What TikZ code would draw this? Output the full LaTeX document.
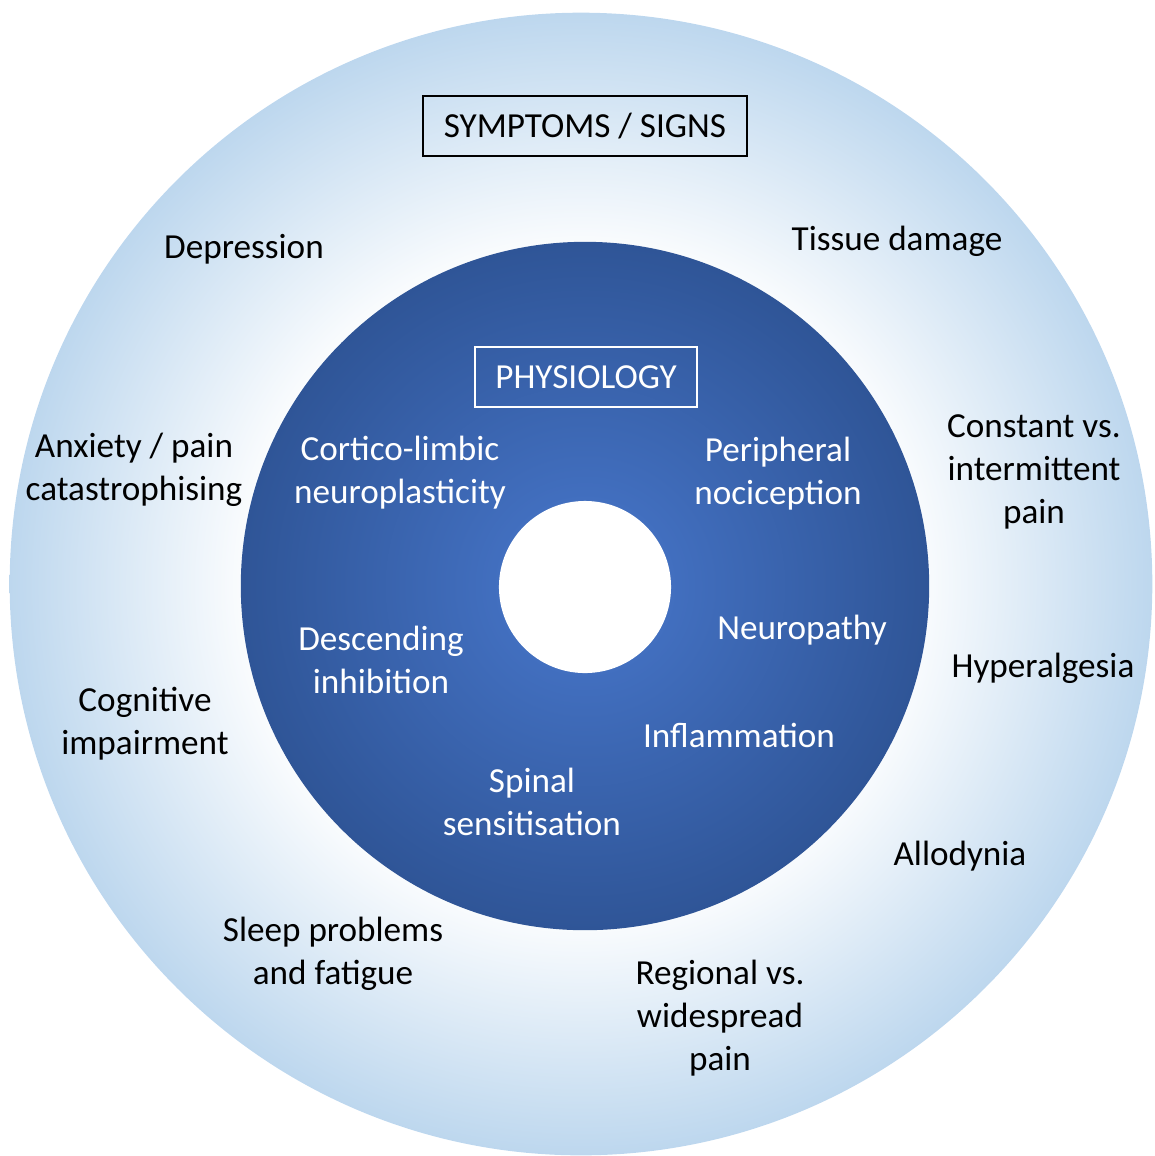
\documentclass[tikz,border=0pt]{standalone}
\usepackage{fontspec}
\setmainfont{Carlito}
\definecolor{sky}{HTML}{BDD7EE}
\definecolor{deepblue}{HTML}{2F5597}
\definecolor{midblue}{HTML}{4472C4}
\pgfdeclareradialshading{outerglow}{\pgfpoint{0bp}{0bp}}{color(0bp)=(white); color(14bp)=(white); color(25bp)=(sky); color(50bp)=(sky)}
\pgfdeclareradialshading{innerglow}{\pgfpoint{0bp}{0bp}}{color(0bp)=(midblue); color(4bp)=(midblue); color(25bp)=(deepblue); color(50bp)=(deepblue)}
\tikzset{
  lbl/.style={align=center,font=\fontsize{10}{12.2}\selectfont},
  titlebox/.style={draw,semithick,minimum width=3.23cm,minimum height=0.6cm}
}
\begin{document}
\begin{tikzpicture}[x=0.01cm,y=-0.01cm]
        \useasboundingbox (0,0) rectangle (1155,1156);
        % rings
        \shade[shading=outerglow] (581,584) coordinate (O) circle (5.71cm);
        \shade[shading=innerglow] (585,586) coordinate (C) circle (3.44cm);
        \fill[white] (585,587) circle (0.86cm);

        % symptoms / signs
        \begin{scope}[every node/.style={lbl,text=black}]
            \node[titlebox] (S) at (585,126) {SYMPTOMS / SIGNS};
            \node (dep) at (244,249) {Depression};
            \node (tis) at (897,241) {Tissue damage};
            \node (anx) at (134,470) {Anxiety / pain\\catastrophising};
            \node (con) at (1034,472) {Constant vs.\\intermittent\\pain};
            \node (hyp) at (1043,668) {Hyperalgesia};
            \node (cog) at (145,724) {Cognitive\\impairment};
            \node (all) at (960,856) {Allodynia};
            \node (slp) at (333,954) {Sleep problems\\and fatigue};
            \node (reg) at (720,1018) {Regional vs.\\widespread\\pain};
        \end{scope}

        % physiology
        \begin{scope}[every node/.style={lbl,text=white}]
            \node[titlebox,draw=white,minimum width=2.21cm] (P) at (586,377) {PHYSIOLOGY};
            \node (cor) at (400,473) {Cortico-limbic\\neuroplasticity};
            \node (per) at (778,474) {Peripheral\\nociception};
            \node (neu) at (802,630) {Neuropathy};
            \node (des) at (381,660) {Descending\\inhibition};
            \node (inf) at (739,735) {Inflammation};
            \node (spi) at (532,802) {Spinal\\sensitisation};
        \end{scope}
    \end{tikzpicture}
\end{document}
